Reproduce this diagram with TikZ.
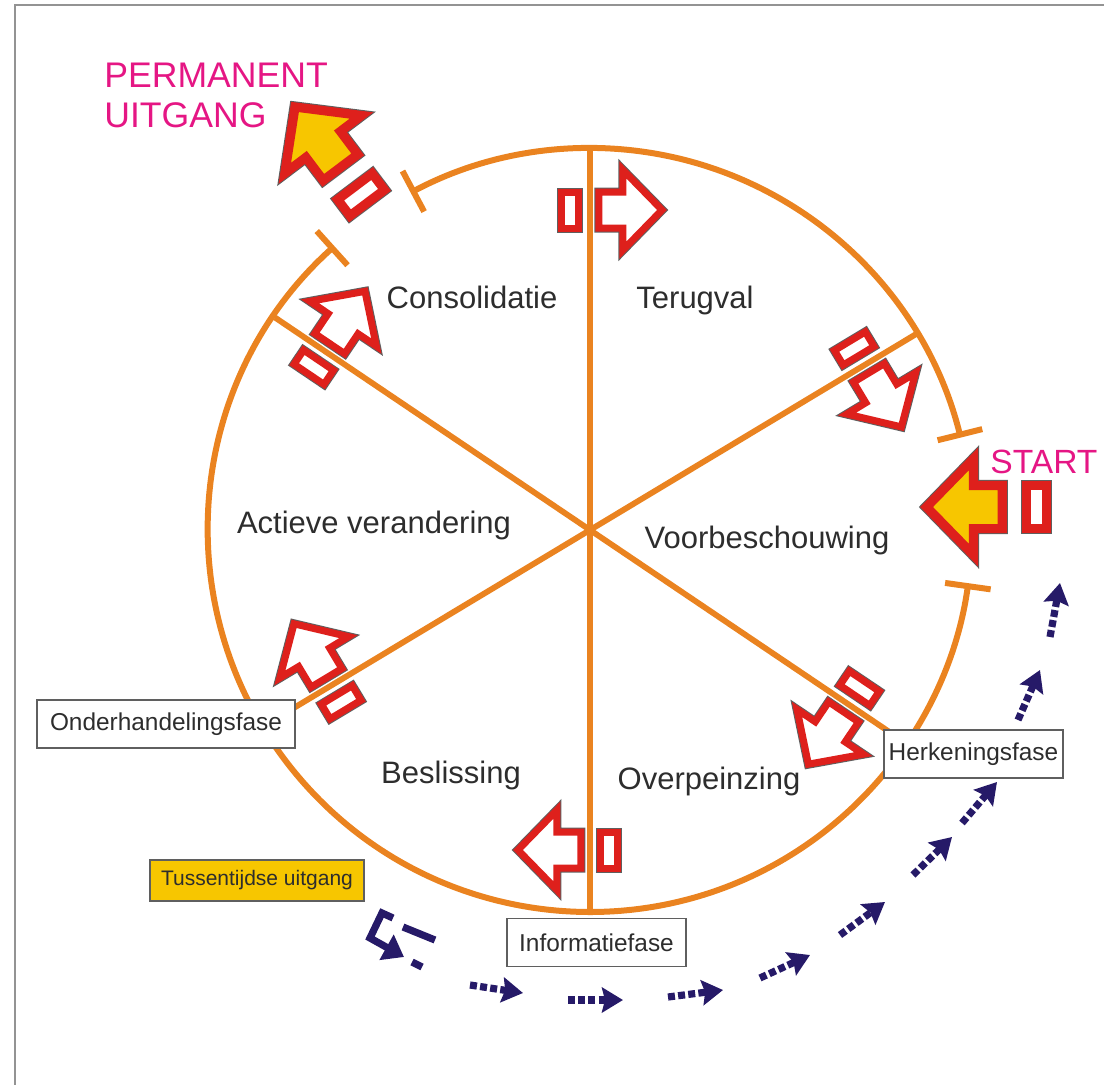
\documentclass[tikz,border=0pt]{standalone}
\usepackage{fontspec}
\setmainfont{Liberation Sans}
\usetikzlibrary{arrows.meta}
\definecolor{oranje}{RGB}{234,131,32}
\definecolor{rood}{RGB}{222,32,28}
\definecolor{geel}{RGB}{247,198,0}
\definecolor{roze}{RGB}{229,22,132}
\definecolor{marine}{RGB}{38,26,104}
\definecolor{tekst}{RGB}{45,45,45}
\definecolor{rand}{RGB}{95,95,95}
\tikzset{
  cycle chart/.style={
    x=0.5pt, y=0.5pt,
    ring/.style={draw=oranje, line width=3pt, {Bar[width=23pt]}-{Bar[width=23pt]}},
    spoke/.style={draw=oranje, line width=2.9pt},
    phase label/.style={font={\fontsize{15.5}{18}\selectfont}, text=tekst, anchor=base, inner sep=0pt},
    stage box/.style={draw=rand, line width=0.8pt, fill=white, font={\fontsize{12.2}{14}\selectfont},
        text=tekst, minimum height=24pt, inner sep=2pt},
    exit box/.style={stage box, fill=geel, font={\fontsize{10.5}{12}\selectfont}},
    roze tekst/.style={text=roze, font={\fontsize{17.8}{20}\selectfont}, inner sep=0pt},
    flow/.style={draw=marine, line width=3.6pt, dash pattern=on 3.5pt off 1.6pt,
        -{Stealth[length=10.5pt,width=12.5pt,inset=1.5pt]}},
    exit flow/.style={draw=marine, line width=3.6pt},
    markband/.style={draw=rood, line width=3.5pt, preaction={draw=rand, line width=4.5pt}},
    bigband/.style={draw=rood, line width=4.6pt, preaction={draw=rand, line width=5.6pt}},
  }
}
\newcommand{\phasemark}[3][]{
    \begin{scope}[#1]
    \draw[#3, fill=white] (-28,-18) rectangle (-11,18);
    \draw[#3, fill=#2] (9,-18) -- (33,-18) -- (33,-40) -- (72,0)
        -- (33,40) -- (33,18) -- (9,18) -- cycle;
    \end{scope}
}

\begin{document}
\begin{tikzpicture}[cycle chart]
    \useasboundingbox (-590,530) rectangle (514,-554);
    \draw[draw=gray!85, line width=1pt] (-575,525) rectangle (540,-570);

    \coordinate (m) at (0,0);
    \foreach \a in {90,31,146}
        \draw[spoke] (\a:380) -- ({\a+180}:380);
    \draw[ring] (14:382) arc[start angle=14, end angle=118, radius=382];
    \draw[ring] (132:382) arc[start angle=132, end angle=352, radius=382];

    % arrows across the spokes
    \foreach \a/\r in {90/320, 31/320, 146/320, 211/302, 326/312, 270/320}
        \phasemark[shift={(\a:\r)}, rotate={\a-90}]{white}{markband};
    \phasemark[shift={(-243,354)}, rotate=127, scale=1.2]{geel}{bigband};
    \phasemark[shift={(423,23)}, rotate=180, scale=1.2]{geel}{bigband};

    \node[phase label] (terugval) at (105,222) {Terugval};
    \node[phase label] (consolidatie) at (-118,222) {Consolidatie};
    \node[phase label] (actief) at (-216,-3) {Actieve verandering};
    \node[phase label] (voorbeschouwing) at (177,-18) {Voorbeschouwing};
    \node[phase label] (beslissing) at (-139,-253) {Beslissing};
    \node[phase label] (overpeinzing) at (119,-259) {Overpeinzing};

    \node[stage box, minimum width=129pt] (onderhandeling) at (-424,-194) {Onderhandelingsfase};
    \node[stage box, minimum width=89.5pt] (herkenning) at (383.5,-224) {Herkeningsfase};
    \node[stage box, minimum width=89.5pt] (informatie) at (6.5,-412.5) {Informatiefase};
    \node[exit box, minimum width=107pt, minimum height=20.5pt] (tussen) at (-333,-350.5) {Tussentijdse uitgang};

    \node[roze tekst, anchor=north west, align=left] (permanent) at (-486,467) {PERMANENT\\UITGANG};
    \node[roze tekst, anchor=base west, font={\fontsize{16.8}{20}\selectfont}] (start) at (400,57) {START};

    % route outside the circle
    \foreach \s/\e [count=\n] in {{-120,-455}/{-67,-463}, {-22,-470}/{33,-470},
        {78,-467}/{133,-460}, {170,-448}/{220,-425}, {250,-405}/{295,-372},
        {323,-345}/{362,-307}, {372,-293}/{407,-252}, {428,-190}/{450,-140},
        {460,-107}/{470,-53}}{
        \coordinate (stap\n a) at (\s);
        \coordinate (stap\n b) at (\e);
        \draw[flow] (stap\n a) -- (stap\n b);
    }
    \draw[exit flow] (-155,-410) -- (-187,-397);
    \draw[exit flow, -{Triangle[length=10pt,width=14pt]}] (-197,-388) -- (-208,-383)
        -- (-220,-408) -- (-186,-427);
    \draw[exit flow] (-178,-432) -- (-168,-437);
\end{tikzpicture}
\end{document}
